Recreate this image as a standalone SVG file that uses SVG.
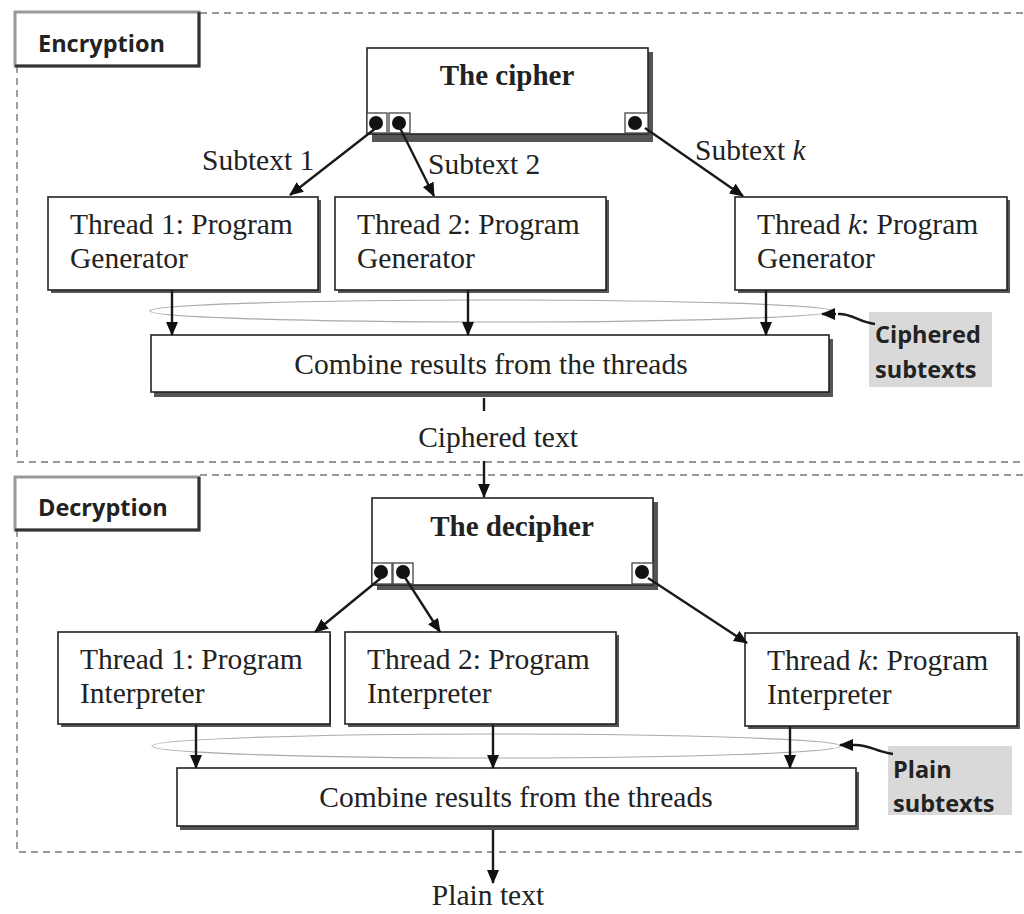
<svg xmlns="http://www.w3.org/2000/svg" width="1024" height="914" viewBox="0 0 1024 914">
<style>
.box{fill:#fff;stroke:#222;stroke-width:1.6}
.shadow{fill:#555}
.t{font-family:"Liberation Serif","Times New Roman",serif;font-size:29.5px;fill:#222}
.tb{font-family:"Liberation Serif","Times New Roman",serif;font-size:29px;font-weight:bold;fill:#222}
.s{font-family:"Open Sans","Noto Sans",sans-serif;font-size:23.5px;font-weight:bold;fill:#222}
.dash{fill:none;stroke:#777;stroke-width:1.4;stroke-dasharray:7,5}
.line{fill:none;stroke:#1a1a1a;stroke-width:2.4}
.ell{fill:none;stroke:#aaa;stroke-width:1.2}
.port{fill:#fff;stroke:#444;stroke-width:1.3}
.dot{fill:#111}
</style>
<defs>
<marker id="ah" viewBox="0 0 14 12" refX="13" refY="6" markerWidth="14" markerHeight="12" markerUnits="userSpaceOnUse" orient="auto">
<path d="M0,0 L14,6 L0,12 Z" fill="#111"/>
</marker>
</defs>
<rect width="1024" height="914" fill="#fff"/>

<!-- section frames -->
<g id="frames">
<path class="dash" d="M200,13 H1024 M17,66 V462 H1024"/>
<path class="dash" d="M200,475 H1024 M17,530 V852 H1024"/>
</g>

<g id="encryption-label">
<rect x="15" y="12" width="184" height="54" fill="#fff" stroke="#999" stroke-width="3"/>
<path d="M199,12 V66 H15" fill="none" stroke="#333" stroke-width="3"/>
<text class="s" x="38" y="52">Encryption</text>
</g>
<g id="decryption-label">
<rect x="15" y="477" width="184" height="53" fill="#fff" stroke="#999" stroke-width="3"/>
<path d="M199,477 V530 H15" fill="none" stroke="#333" stroke-width="3"/>
<text class="s" x="38" y="516">Decryption</text>
</g>

<!-- Encryption -->
<g id="cipher">
<rect class="shadow" x="372" y="52" width="281" height="90"/>
<rect class="box" x="367" y="48" width="281" height="86"/>
<text class="tb" x="507" y="85" text-anchor="middle">The cipher</text>
<rect class="port" x="367" y="113" width="20" height="20"/>
<rect class="port" x="389" y="113" width="21" height="20"/>
<rect class="port" x="625" y="113" width="23" height="20"/>
<circle class="dot" cx="376" cy="123" r="7"/>
<circle class="dot" cx="399" cy="123" r="7"/>
<circle class="dot" cx="635" cy="123" r="7"/>
</g>

<g id="enc-thread1">
<rect class="shadow" x="51" y="200" width="270" height="93"/>
<rect class="box" x="48" y="197" width="270" height="93"/>
<text class="t" x="70" y="234">Thread 1: Program</text>
<text class="t" x="70" y="268">Generator</text>
</g>
<g id="enc-thread2">
<rect class="shadow" x="338" y="200" width="271" height="93"/>
<rect class="box" x="335" y="197" width="271" height="93"/>
<text class="t" x="357" y="234">Thread 2: Program</text>
<text class="t" x="357" y="268">Generator</text>
</g>
<g id="enc-threadk">
<rect class="shadow" x="738" y="200" width="272" height="93"/>
<rect class="box" x="735" y="197" width="272" height="93"/>
<text class="t" x="757" y="234">Thread <tspan font-style="italic">k</tspan>: Program</text>
<text class="t" x="757" y="268">Generator</text>
</g>

<g id="enc-combine">
<rect class="shadow" x="154" y="339" width="679" height="58"/>
<rect class="box" x="151" y="335" width="678" height="57"/>
<text class="t" x="491" y="374" text-anchor="middle">Combine results from the threads</text>
</g>

<g id="ciphered-subtexts">
<rect x="869" y="312" width="123" height="75" fill="#d9d9d9"/>
<text class="s" x="875" y="343">Ciphered</text>
<text class="s" x="875" y="378">subtexts</text>
</g>

<ellipse id="enc-ellipse" class="ell" cx="491" cy="311" rx="341" ry="11"/>

<text id="ciphered-text" class="t" x="498" y="447" text-anchor="middle">Ciphered text</text>

<!-- Decryption -->
<g id="decipher">
<rect class="shadow" x="377" y="502" width="281" height="88"/>
<rect class="box" x="372" y="498" width="281" height="87"/>
<text class="tb" x="512" y="536" text-anchor="middle">The decipher</text>
<rect class="port" x="372" y="563" width="20" height="21"/>
<rect class="port" x="393" y="563" width="20" height="21"/>
<rect class="port" x="632" y="563" width="21" height="21"/>
<circle class="dot" cx="381" cy="572" r="7"/>
<circle class="dot" cx="403" cy="572" r="7"/>
<circle class="dot" cx="642" cy="572" r="7"/>
</g>

<g id="dec-thread1">
<rect class="shadow" x="61" y="635" width="270" height="92"/>
<rect class="box" x="58" y="632" width="272" height="92"/>
<text class="t" x="80" y="669">Thread 1: Program</text>
<text class="t" x="80" y="703">Interpreter</text>
</g>
<g id="dec-thread2">
<rect class="shadow" x="348" y="635" width="271" height="92"/>
<rect class="box" x="345" y="632" width="271" height="92"/>
<text class="t" x="367" y="669">Thread 2: Program</text>
<text class="t" x="367" y="703">Interpreter</text>
</g>
<g id="dec-threadk">
<rect class="shadow" x="748" y="636" width="272" height="93"/>
<rect class="box" x="745" y="633" width="272" height="93"/>
<text class="t" x="767" y="670">Thread <tspan font-style="italic">k</tspan>: Program</text>
<text class="t" x="767" y="704">Interpreter</text>
</g>

<g id="dec-combine">
<rect class="shadow" x="180" y="772" width="679" height="58"/>
<rect class="box" x="177" y="768" width="679" height="58"/>
<text class="t" x="516" y="807" text-anchor="middle">Combine results from the threads</text>
</g>

<g id="plain-subtexts">
<rect x="888" y="746" width="124" height="69" fill="#d9d9d9"/>
<text class="s" x="893" y="778">Plain</text>
<text class="s" x="893" y="812">subtexts</text>
</g>

<ellipse id="dec-ellipse" class="ell" cx="496" cy="746" rx="344" ry="12"/>

<text id="plain-text" class="t" x="488" y="905" text-anchor="middle">Plain text</text>

<!-- connectors -->
<g id="connectors">
<line class="line" x1="376" y1="128" x2="290" y2="195" marker-end="url(#ah)"/>
<line class="line" x1="399" y1="126" x2="434" y2="196" marker-end="url(#ah)"/>
<line class="line" x1="645" y1="128" x2="743" y2="196" marker-end="url(#ah)"/>
<line class="line" x1="172" y1="290" x2="172" y2="335" marker-end="url(#ah)"/>
<line class="line" x1="468" y1="290" x2="468" y2="335" marker-end="url(#ah)"/>
<line class="line" x1="766" y1="290" x2="766" y2="335" marker-end="url(#ah)"/>
<path class="line" d="M875,324 C858,322 852,313 838,314" />
<line class="line" x1="836" y1="314" x2="822" y2="314" marker-end="url(#ah)"/>
<line class="line" x1="484" y1="398" x2="484" y2="411"/>
<line class="line" x1="484" y1="461" x2="484" y2="497" marker-end="url(#ah)"/>
<line class="line" x1="381" y1="578" x2="315" y2="632" marker-end="url(#ah)"/>
<line class="line" x1="404" y1="576" x2="440" y2="632" marker-end="url(#ah)"/>
<line class="line" x1="648" y1="578" x2="747" y2="643" marker-end="url(#ah)"/>
<line class="line" x1="196" y1="725" x2="196" y2="768" marker-end="url(#ah)"/>
<line class="line" x1="493" y1="725" x2="493" y2="768" marker-end="url(#ah)"/>
<line class="line" x1="790" y1="727" x2="790" y2="768" marker-end="url(#ah)"/>
<path class="line" d="M893,754 C876,752 868,744 854,745"/>
<line class="line" x1="854" y1="745" x2="840" y2="745" marker-end="url(#ah)"/>
<line class="line" x1="493" y1="830" x2="493" y2="883" marker-end="url(#ah)"/>
<text class="t" x="202" y="170">Subtext 1</text>
<text class="t" x="428" y="174">Subtext 2</text>
<text class="t" x="695" y="160">Subtext <tspan font-style="italic">k</tspan></text>
</g>
</svg>
